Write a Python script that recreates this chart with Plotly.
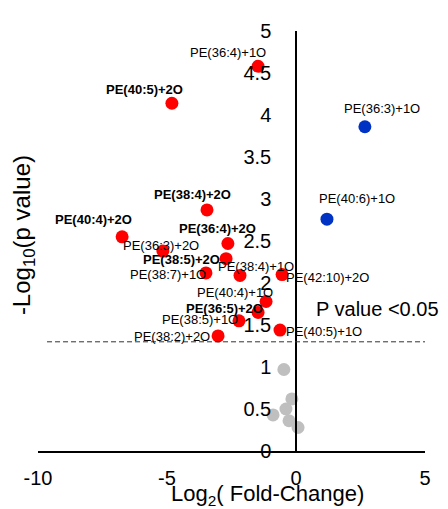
import plotly.graph_objects as go

# Data
red_names = ["PE(36:4)+1O", "PE(40:5)+2O", "PE(38:4)+2O", "PE(40:4)+2O", "PE(36:3)+2O",
             "PE(36:4)+2O", "PE(38:5)+2O", "PE(38:7)+1O", "PE(38:4)+1O", "PE(42:10)+2O",
             "PE(40:4)+1O", "PE(36:5)+2O", "PE(38:5)+1O", "PE(40:5)+1O", "PE(38:2)+2O"]
red_x = [-1.47, -4.81, -3.45, -6.74, -5.16, -2.64, -2.71, -3.49, -2.17, -0.54,
         -1.16, -1.47, -2.21, -0.62, -3.02]
red_y = [4.58, 4.14, 2.87, 2.55, 2.38, 2.47, 2.29, 2.12, 2.09, 2.10,
         1.78, 1.65, 1.55, 1.44, 1.37]
red_bold = [False, True, True, True, False, True, True, False, False, False,
            False, True, False, False, False]

blue_names = ["PE(36:3)+1O", "PE(40:6)+1O"]
blue_x = [2.67, 1.20]
blue_y = [3.86, 2.76]

gray_x = [-0.47, -0.16, -0.39, -0.89, -0.27, 0.08]
gray_y = [0.97, 0.62, 0.50, 0.43, 0.36, 0.28]

y_ticks = [0, 0.5, 1, 1.5, 2, 2.5, 3, 3.5, 4, 4.5, 5]
y_ticklabels = ["0", "0.5", "1", "1.5", "2", "2.5", "3", "3.5", "4", "4.5", "5"]
x_ticks = [-10, -5, 0, 5]
x_ticklabels = ["-10", "-5", "0", "5"]
threshold = 1.3

# label pixel offsets (dx right, dy down)
red_off = [(-30, -14), (-27, -14), (-14, -15), (-29, -17), (-2, -6),
           (-10, -15), (-45, 1), (-38, 2), (16, -9), (45, 3),
           (-31, -9), (-34, -4), (-39, -1), (44, 1), (-46, 1)]
blue_off = [(17, -18), (30, -21)]

FONT = "Arial, Liberation Sans, sans-serif"

fig = go.Figure()
fig.add_trace(go.Scatter(x=gray_x, y=gray_y, mode="markers",
                         marker=dict(size=13, color="#BFBFBF"), cliponaxis=False))
fig.add_trace(go.Scatter(x=red_x, y=red_y, mode="markers",
                         marker=dict(size=13, color="#FF0000"), cliponaxis=False))
fig.add_trace(go.Scatter(x=blue_x, y=blue_y, mode="markers",
                         marker=dict(size=13, color="#0033C4"), cliponaxis=False))

annotations = []
for n, x, y, b, (dx, dy) in zip(red_names, red_x, red_y, red_bold, red_off):
    annotations.append(dict(x=x, y=y, xref="x", yref="y", text=f"<b>{n}</b>" if b else n,
                            showarrow=False, xshift=dx, yshift=-dy,
                            xanchor="center", yanchor="middle",
                            font=dict(size=13, color="black", family=FONT)))
for n, x, y, (dx, dy) in zip(blue_names, blue_x, blue_y, blue_off):
    annotations.append(dict(x=x, y=y, xref="x", yref="y", text=n,
                            showarrow=False, xshift=dx, yshift=-dy,
                            xanchor="center", yanchor="middle",
                            font=dict(size=13, color="black", family=FONT)))

annotations.append(dict(x=3.14, y=1.69, xref="x", yref="y", text="P value <0.05",
                        showarrow=False, xanchor="center", yanchor="middle",
                        font=dict(size=20, color="black", family=FONT)))
annotations.append(dict(x=0, y=0.514, xref="paper", yref="paper", xshift=-15,
                        xanchor="center", yanchor="middle",
                        text="-Log<sub>10</sub>(p value)", textangle=-90, showarrow=False,
                        font=dict(size=24, color="black", family=FONT)))
annotations.append(dict(x=-1.12, y=0, xref="x", yref="paper", yshift=-44,
                        xanchor="center", yanchor="middle",
                        text="Log<sub>2</sub>( Fold-Change)", showarrow=False,
                        font=dict(size=22, color="black", family=FONT)))

fig.add_shape(type="line", x0=-9.65, x1=5, y0=threshold, y1=threshold, xref="x", yref="y",
              line=dict(color="#333333", width=1, dash="5px,3px"))

# page body has an 8px default margin; compensate so the plot lands where the reference does
fig.update_layout(
    width=440, height=501,
    margin=dict(l=30, r=23, t=13, b=58),
    plot_bgcolor="white", paper_bgcolor="white",
    showlegend=False,
    font=dict(family=FONT, color="black"),
    annotations=annotations,
    xaxis=dict(range=[-10, 5], showgrid=False, zeroline=False, showline=True,
               linecolor="black", linewidth=1.5, tickvals=x_ticks, ticktext=x_ticklabels,
               ticks="", tickfont=dict(size=20, family=FONT), ticklabelstandoff=8),
    yaxis=dict(range=[0, 5], showgrid=False, zeroline=False, showline=True,
               linecolor="black", linewidth=1.5, anchor="free", position=10 / 15,
               tickvals=y_ticks, ticktext=y_ticklabels, ticks="",
               tickfont=dict(size=20, family=FONT), ticklabelstandoff=20),
)

fig.write_html("out.html")
